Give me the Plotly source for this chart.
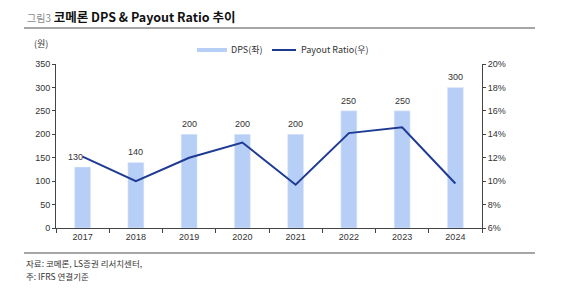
import plotly.graph_objects as go

years = ["2017", "2018", "2019", "2020", "2021", "2022", "2023", "2024"]
dps = [130, 140, 200, 200, 200, 250, 250, 300]
payout = [12.1, 10.0, 12.0, 13.3, 9.7, 14.1, 14.6, 9.8]

BAR = "#b7cff7"
LINE = "#1f3a93"
AX = "#444444"
TXT = "#333333"
FONT = "Liberation Sans, Arial, sans-serif"
KFONT = "Noto Sans CJK KR, sans-serif"

fig = go.Figure()
fig.add_trace(go.Bar(x=years, y=dps, marker_color=BAR, width=0.3,
                     name="DPS(좌)", showlegend=False))
fig.add_trace(go.Scatter(x=years, y=payout, yaxis="y2", mode="lines",
                         line=dict(color=LINE, width=2), name="Payout Ratio(우)",
                         showlegend=False))

W, H = 562, 288
L, R, T, B = 56, 80, 64, 60
pw = W - L - R
ph = H - T - B

def px(x):
    return (x - L) / pw

def py(y):
    return (H - B - y) / ph

fig.update_layout(
    width=W, height=H, margin=dict(l=L, r=R, t=T, b=B),
    paper_bgcolor="white", plot_bgcolor="white",
    font=dict(family=FONT, size=9, color=TXT),
    xaxis=dict(type="category", categoryorder="array", categoryarray=years,
               range=[-0.5, len(years) - 0.5], showline=True, linecolor=AX, linewidth=1,
               ticks="outside", tickson="boundaries", ticklen=4, tickcolor=AX,
               tickfont=dict(size=9, color=TXT), showgrid=False),
    yaxis=dict(range=[0, 350], dtick=50, showline=True, linecolor=AX, linewidth=1,
               ticks="outside", ticklen=3, tickcolor=AX, showgrid=False, zeroline=False,
               tickfont=dict(size=9, color=TXT)),
    yaxis2=dict(range=[6, 20], dtick=2, overlaying="y", side="right", showline=True,
                linecolor=AX, linewidth=1, ticks="outside", ticklen=3, tickcolor=AX,
                ticksuffix="%", showgrid=False, zeroline=False,
                tickfont=dict(size=9, color=TXT)),
    showlegend=False,
)

shapes = [
    dict(type="line", xref="paper", yref="paper", x0=px(24), x1=px(535), y0=py(28), y1=py(28),
         line=dict(color="#a6a6a6", width=2)),
    dict(type="line", xref="paper", yref="paper", x0=px(24), x1=px(535), y0=py(253), y1=py(253),
         line=dict(color="#a6a6a6", width=2)),
    dict(type="line", xref="paper", yref="paper", x0=px(197), x1=px(227), y0=py(50), y1=py(50),
         line=dict(color=BAR, width=4)),
    dict(type="line", xref="paper", yref="paper", x0=px(272), x1=px(296), y0=py(50), y1=py(50),
         line=dict(color=LINE, width=2)),
]
fig.update_layout(shapes=shapes)

ann = [
    dict(x=px(25), y=py(17), text="<span style='color:#8a8a8a;font-size:10px'>그림3</span> <b>코메론 DPS &amp; Payout Ratio 추이</b>",
         font=dict(family=KFONT, size=12.5, color="#111111"), xanchor="left", yanchor="middle"),
    dict(x=px(50), y=py(44), text="(원)", font=dict(family=KFONT, size=9, color=TXT),
         xanchor="right", yanchor="middle"),
    dict(x=px(229), y=py(50), text="DPS(좌)", font=dict(family=KFONT, size=9, color=TXT),
         xanchor="left", yanchor="middle"),
    dict(x=px(299), y=py(50), text="Payout Ratio(우)", font=dict(family=KFONT, size=9, color=TXT),
         xanchor="left", yanchor="middle"),
    dict(x=px(24), y=py(263), text="자료: 코메론, LS증권 리서치센터,", font=dict(family=KFONT, size=8.5, color=TXT),
         xanchor="left", yanchor="middle"),
    dict(x=px(24), y=py(276), text="주: IFRS 연결기준", font=dict(family=KFONT, size=8.5, color=TXT),
         xanchor="left", yanchor="middle"),
]
for a in ann:
    a.update(xref="paper", yref="paper", showarrow=False)

# value labels above bars (first label nudged left, clear of the line start)
for i, v in enumerate(dps):
    ann.append(dict(x=i, y=v, xref="x", yref="y", text=str(v), showarrow=False,
                    xanchor="center", yanchor="bottom", yshift=3,
                    xshift=-7 if i == 0 else 0,
                    font=dict(family=FONT, size=9, color=TXT)))
fig.update_layout(annotations=ann)

fig.write_html("out.html")
